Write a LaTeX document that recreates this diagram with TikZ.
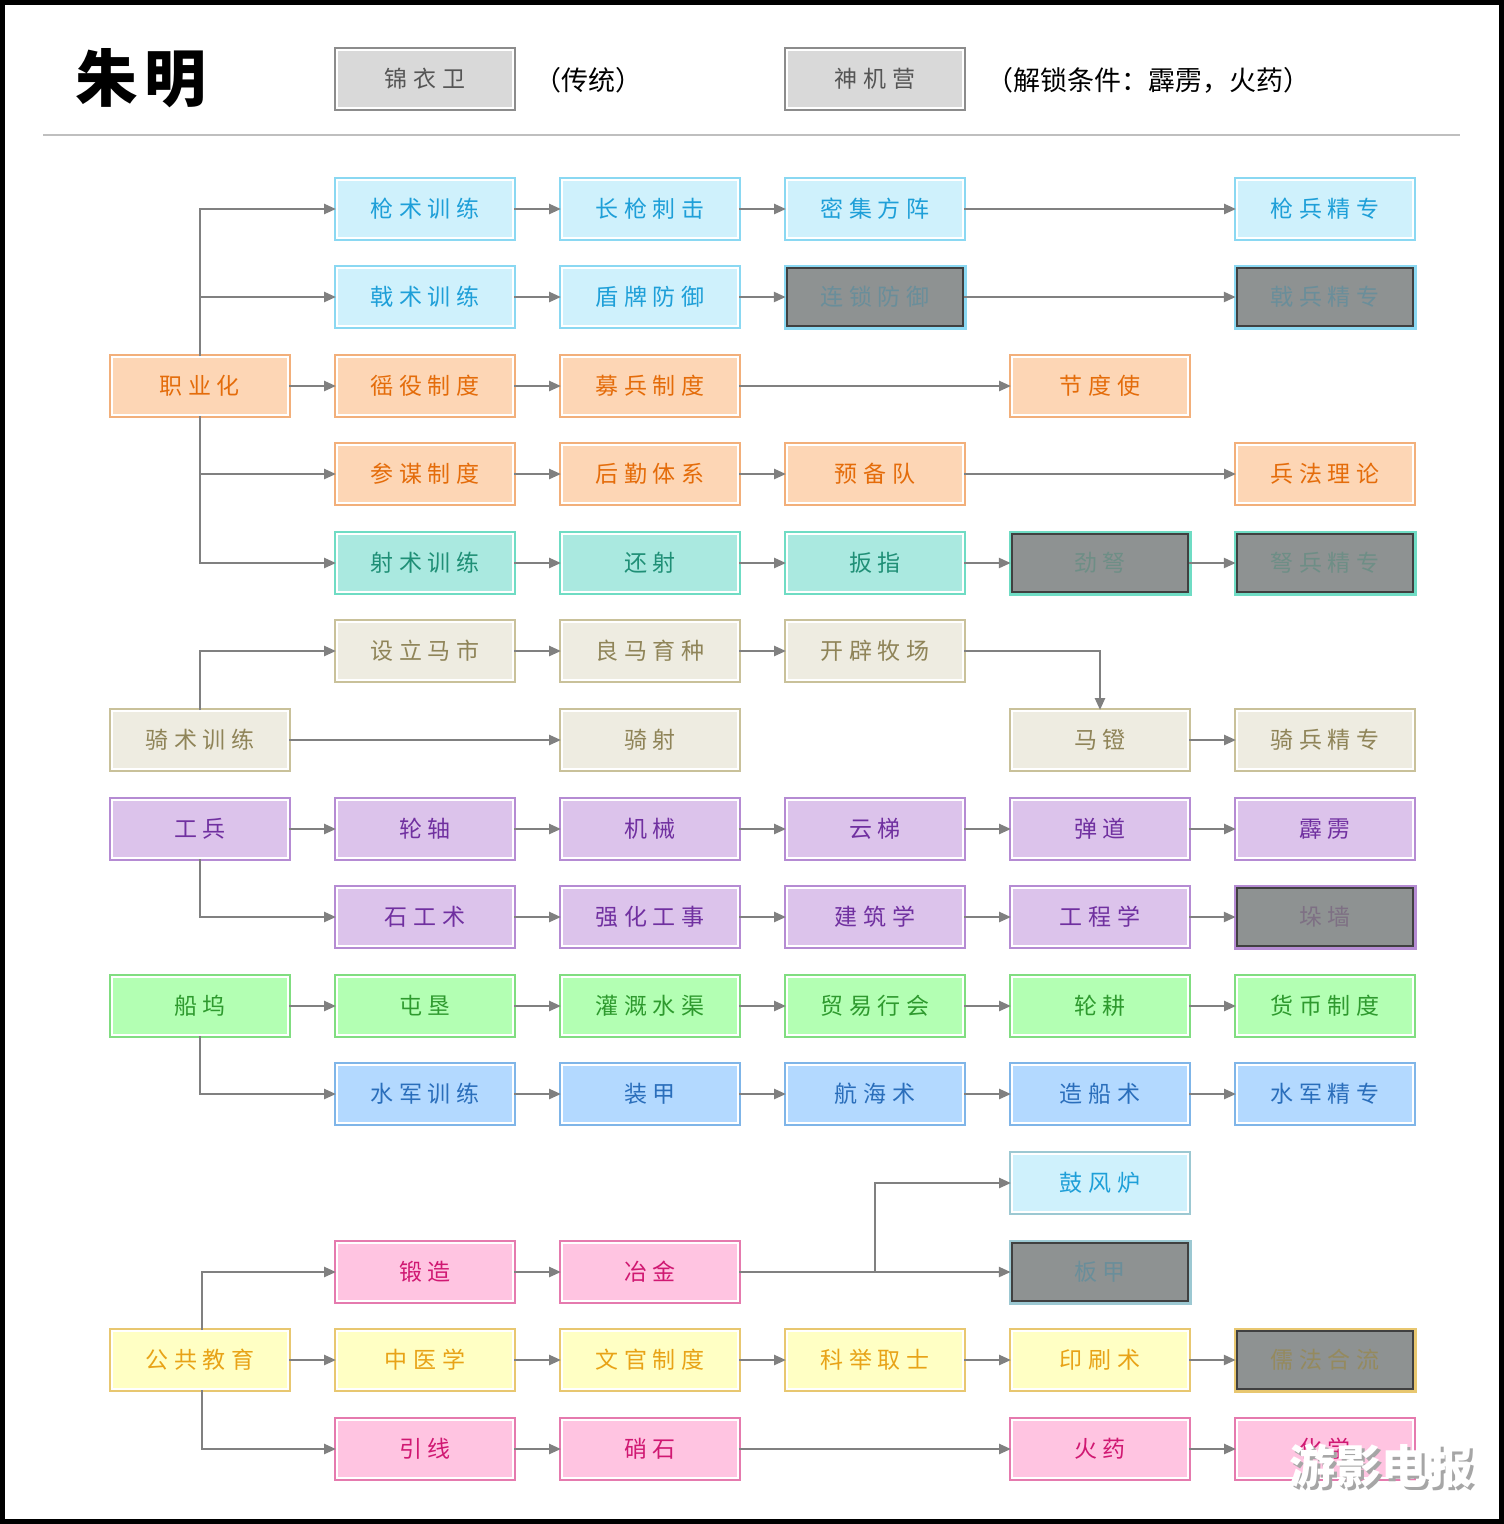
\documentclass[tikz,border=0pt]{standalone}
\usepackage{fontspec}
\usetikzlibrary{arrows.meta}
\newfontfamily\cjk{Noto Sans CJK SC}
\newfontfamily\cjksp{Noto Sans CJK SC}[LetterSpace=24]
\newfontfamily\cjktitle{Noto Sans CJK SC}[LetterSpace=12]
\definecolor{blueF}{HTML}{CFF1FC}\definecolor{blueB}{HTML}{8AD8F2}\definecolor{blueT}{HTML}{1E9FD8}\definecolor{blueL}{HTML}{6A8E9A}
\definecolor{orangeF}{HTML}{FDD6B5}\definecolor{orangeB}{HTML}{F2AF7A}\definecolor{orangeT}{HTML}{E46C0A}
\definecolor{tealF}{HTML}{AAE9E0}\definecolor{tealB}{HTML}{6FDCC4}\definecolor{tealT}{HTML}{1F8F76}\definecolor{tealL}{HTML}{6E8E86}
\definecolor{beigeF}{HTML}{EEECE1}\definecolor{beigeB}{HTML}{C9C19A}\definecolor{beigeT}{HTML}{8F8458}
\definecolor{purpleF}{HTML}{DCC3EB}\definecolor{purpleB}{HTML}{B58BD3}\definecolor{purpleT}{HTML}{7030A0}\definecolor{purpleL}{HTML}{7E7084}
\definecolor{greenF}{HTML}{B3FFB3}\definecolor{greenB}{HTML}{80DD80}\definecolor{greenT}{HTML}{2E9A2E}
\definecolor{navyF}{HTML}{B3D9FF}\definecolor{navyB}{HTML}{7FB5E8}\definecolor{navyT}{HTML}{2A6EBB}
\definecolor{cyanF}{HTML}{CFF1FC}\definecolor{cyanB}{HTML}{9CC8D2}\definecolor{cyanT}{HTML}{1E9FD8}\definecolor{cyanL}{HTML}{6A8E9A}
\definecolor{pinkF}{HTML}{FFC4E1}\definecolor{pinkB}{HTML}{E57AAE}\definecolor{pinkT}{HTML}{D01872}
\definecolor{yellowF}{HTML}{FFFFC4}\definecolor{yellowB}{HTML}{E8C770}\definecolor{yellowT}{HTML}{E8A317}\definecolor{yellowL}{HTML}{958A5E}
\definecolor{grayF}{HTML}{D9D9D9}\definecolor{grayB}{HTML}{8C8C8C}\definecolor{grayT}{HTML}{555555}
\definecolor{lockF}{HTML}{8E9292}\definecolor{lockD}{HTML}{404040}
\definecolor{connC}{HTML}{808080}
\tikzset{
  tbox/.style={minimum width=176pt, minimum height=58pt, inner sep=0pt, fill=#1F, draw=white, line width=2pt, text=#1T, preaction={draw=#1B, line width=6pt}, font=\cjksp\fontsize{23}{27}\selectfont},
  lbox/.style={minimum width=176pt, minimum height=58pt, inner sep=0pt, fill=lockF, draw=lockD, line width=2.5pt, text=#1L, preaction={draw=#1B, line width=7pt}, font=\cjksp\fontsize{23}{27}\selectfont},
  conn/.style={draw=connC, line width=2.5pt, -{Triangle[length=12pt,width=10pt]}},
}
\begin{document}
\begin{tikzpicture}[x=1pt,y=-1pt]
\useasboundingbox (0,0) rectangle (1504,1524);
\fill[white] (0,0) rectangle (1504,1524);
\draw[black, line width=5pt] (2.5,2.5) rectangle (1501.5,1521.5);
% header
\node[font=\cjktitle\bfseries\fontsize{62}{68}\selectfont] (title) at (141,78) {朱明};
\node[tbox=gray] (leg1) at (425,79) {锦衣卫};
\node[font=\cjk\fontsize{27}{32}\selectfont] (leg1t) at (588,80) {（传统）};
\node[tbox=gray] (leg2) at (875,79) {神机营};
\node[font=\cjk\fontsize{27}{32}\selectfont, anchor=west] (leg2t) at (983,80) {（解锁条件：霹雳，火药）};
\draw[black!25, line width=2pt] (43,135) -- (1460,135);
% row 1-5
\node[tbox=blue] (qs) at (425,209) {枪术训练};
\node[tbox=blue] (cq) at (650,209) {长枪刺击};
\node[tbox=blue] (mj) at (875,209) {密集方阵};
\node[tbox=blue] (qb) at (1325,209) {枪兵精专};
\node[tbox=blue] (js) at (425,297) {戟术训练};
\node[tbox=blue] (dp) at (650,297) {盾牌防御};
\node[lbox=blue] (ls) at (875,297) {连锁防御};
\node[lbox=blue] (jb) at (1325,297) {戟兵精专};
\node[tbox=orange] (zy) at (200,386) {职业化};
\node[tbox=orange] (yy) at (425,386) {徭役制度};
\node[tbox=orange] (mb) at (650,386) {募兵制度};
\node[tbox=orange] (jd) at (1100,386) {节度使};
\node[tbox=orange] (cm) at (425,474) {参谋制度};
\node[tbox=orange] (hq) at (650,474) {后勤体系};
\node[tbox=orange] (yb) at (875,474) {预备队};
\node[tbox=orange] (bf) at (1325,474) {兵法理论};
\node[tbox=teal] (ss) at (425,563) {射术训练};
\node[tbox=teal] (hs) at (650,563) {还射};
\node[tbox=teal] (bz) at (875,563) {扳指};
\node[lbox=teal] (jn) at (1100,563) {劲弩};
\node[lbox=teal] (nb) at (1325,563) {弩兵精专};
% cavalry
\node[tbox=beige] (sl) at (425,651) {设立马市};
\node[tbox=beige] (lm) at (650,651) {良马育种};
\node[tbox=beige] (kp) at (875,651) {开辟牧场};
\node[tbox=beige] (qss) at (200,740) {骑术训练};
\node[tbox=beige] (qsh) at (650,740) {骑射};
\node[tbox=beige] (md) at (1100,740) {马镫};
\node[tbox=beige] (qbj) at (1325,740) {骑兵精专};
% engineers
\node[tbox=purple] (gb) at (200,829) {工兵};
\node[tbox=purple] (lz) at (425,829) {轮轴};
\node[tbox=purple] (jx) at (650,829) {机械};
\node[tbox=purple] (yt) at (875,829) {云梯};
\node[tbox=purple] (dd) at (1100,829) {弹道};
\node[tbox=purple] (pl) at (1325,829) {霹雳};
\node[tbox=purple] (sg) at (425,917) {石工术};
\node[tbox=purple] (qh) at (650,917) {强化工事};
\node[tbox=purple] (jz) at (875,917) {建筑学};
\node[tbox=purple] (gc) at (1100,917) {工程学};
\node[lbox=purple] (dq) at (1325,917) {垛墙};
% economy / navy
\node[tbox=green] (cw) at (200,1006) {船坞};
\node[tbox=green] (tk) at (425,1006) {屯垦};
\node[tbox=green] (gq) at (650,1006) {灌溉水渠};
\node[tbox=green] (my) at (875,1006) {贸易行会};
\node[tbox=green] (lg) at (1100,1006) {轮耕};
\node[tbox=green] (hb) at (1325,1006) {货币制度};
\node[tbox=navy] (sx) at (425,1094) {水军训练};
\node[tbox=navy] (zj) at (650,1094) {装甲};
\node[tbox=navy] (hh) at (875,1094) {航海术};
\node[tbox=navy] (zc) at (1100,1094) {造船术};
\node[tbox=navy] (sj) at (1325,1094) {水军精专};
% education
\node[tbox=cyan] (gfl) at (1100,1183) {鼓风炉};
\node[tbox=pink] (dz) at (425,1272) {锻造};
\node[tbox=pink] (yj) at (650,1272) {冶金};
\node[lbox=cyan] (bj) at (1100,1272) {板甲};
\node[tbox=yellow] (ggjy) at (200,1360) {公共教育};
\node[tbox=yellow] (zyx) at (425,1360) {中医学};
\node[tbox=yellow] (wg) at (650,1360) {文官制度};
\node[tbox=yellow] (kj) at (875,1360) {科举取士};
\node[tbox=yellow] (ys) at (1100,1360) {印刷术};
\node[lbox=yellow] (rf) at (1325,1360) {儒法合流};
\node[tbox=pink] (yx) at (425,1449) {引线};
\node[tbox=pink] (xs) at (650,1449) {硝石};
\node[tbox=pink] (hy) at (1100,1449) {火药};
\node[tbox=pink] (hx) at (1325,1449) {化学};
% connectors
\draw[conn] (zy.north) |- (qs.west);
\draw[conn] (zy.north) |- (js.west);
\draw[conn] (zy.east) -- (yy.west);
\draw[conn] (zy.south) |- (cm.west);
\draw[conn] (zy.south) |- (ss.west);
\draw[conn] (qs) -- (cq); \draw[conn] (cq) -- (mj); \draw[conn] (mj) -- (qb);
\draw[conn] (js) -- (dp); \draw[conn] (dp) -- (ls); \draw[conn] (ls) -- (jb);
\draw[conn] (yy) -- (mb); \draw[conn] (mb) -- (jd);
\draw[conn] (cm) -- (hq); \draw[conn] (hq) -- (yb); \draw[conn] (yb) -- (bf);
\draw[conn] (ss) -- (hs); \draw[conn] (hs) -- (bz); \draw[conn] (bz) -- (jn); \draw[conn] (jn) -- (nb);
\draw[conn] (qss.north) |- (sl.west);
\draw[conn] (qss) -- (qsh);
\draw[conn] (sl) -- (lm); \draw[conn] (lm) -- (kp);
\draw[conn] (kp.east) -| (md.north);
\draw[conn] (md) -- (qbj);
\draw[conn] (gb) -- (lz); \draw[conn] (lz) -- (jx); \draw[conn] (jx) -- (yt); \draw[conn] (yt) -- (dd); \draw[conn] (dd) -- (pl);
\draw[conn] (gb.south) |- (sg.west);
\draw[conn] (sg) -- (qh); \draw[conn] (qh) -- (jz); \draw[conn] (jz) -- (gc); \draw[conn] (gc) -- (dq);
\draw[conn] (cw) -- (tk); \draw[conn] (tk) -- (gq); \draw[conn] (gq) -- (my); \draw[conn] (my) -- (lg); \draw[conn] (lg) -- (hb);
\draw[conn] (cw.south) |- (sx.west);
\draw[conn] (sx) -- (zj); \draw[conn] (zj) -- (hh); \draw[conn] (hh) -- (zc); \draw[conn] (zc) -- (sj);
\coordinate (yjm) at (875,1272);
\draw[conn] (yj.east) -- (yjm) |- (gfl.west);
\draw[conn] (yj) -- (bj);
\draw[conn] (dz) -- (yj);
\draw[conn] ([xshift=2pt]ggjy.north) |- (dz.west);
\draw[conn] (ggjy) -- (zyx);
\draw[conn] ([xshift=2pt]ggjy.south) |- (yx.west);
\draw[conn] (zyx) -- (wg); \draw[conn] (wg) -- (kj); \draw[conn] (kj) -- (ys); \draw[conn] (ys) -- (rf);
\draw[conn] (yx) -- (xs); \draw[conn] (xs) -- (hy); \draw[conn] (hy) -- (hx);
% watermark
\node[font=\cjk\bfseries\fontsize{46}{50}\selectfont, text=black!35] (wm0) at (1384,1469) {游影电报};
\node[font=\cjk\bfseries\fontsize{46}{50}\selectfont, text=white] (wm) at (1381,1466) {游影电报};
\end{tikzpicture}
\end{document}
